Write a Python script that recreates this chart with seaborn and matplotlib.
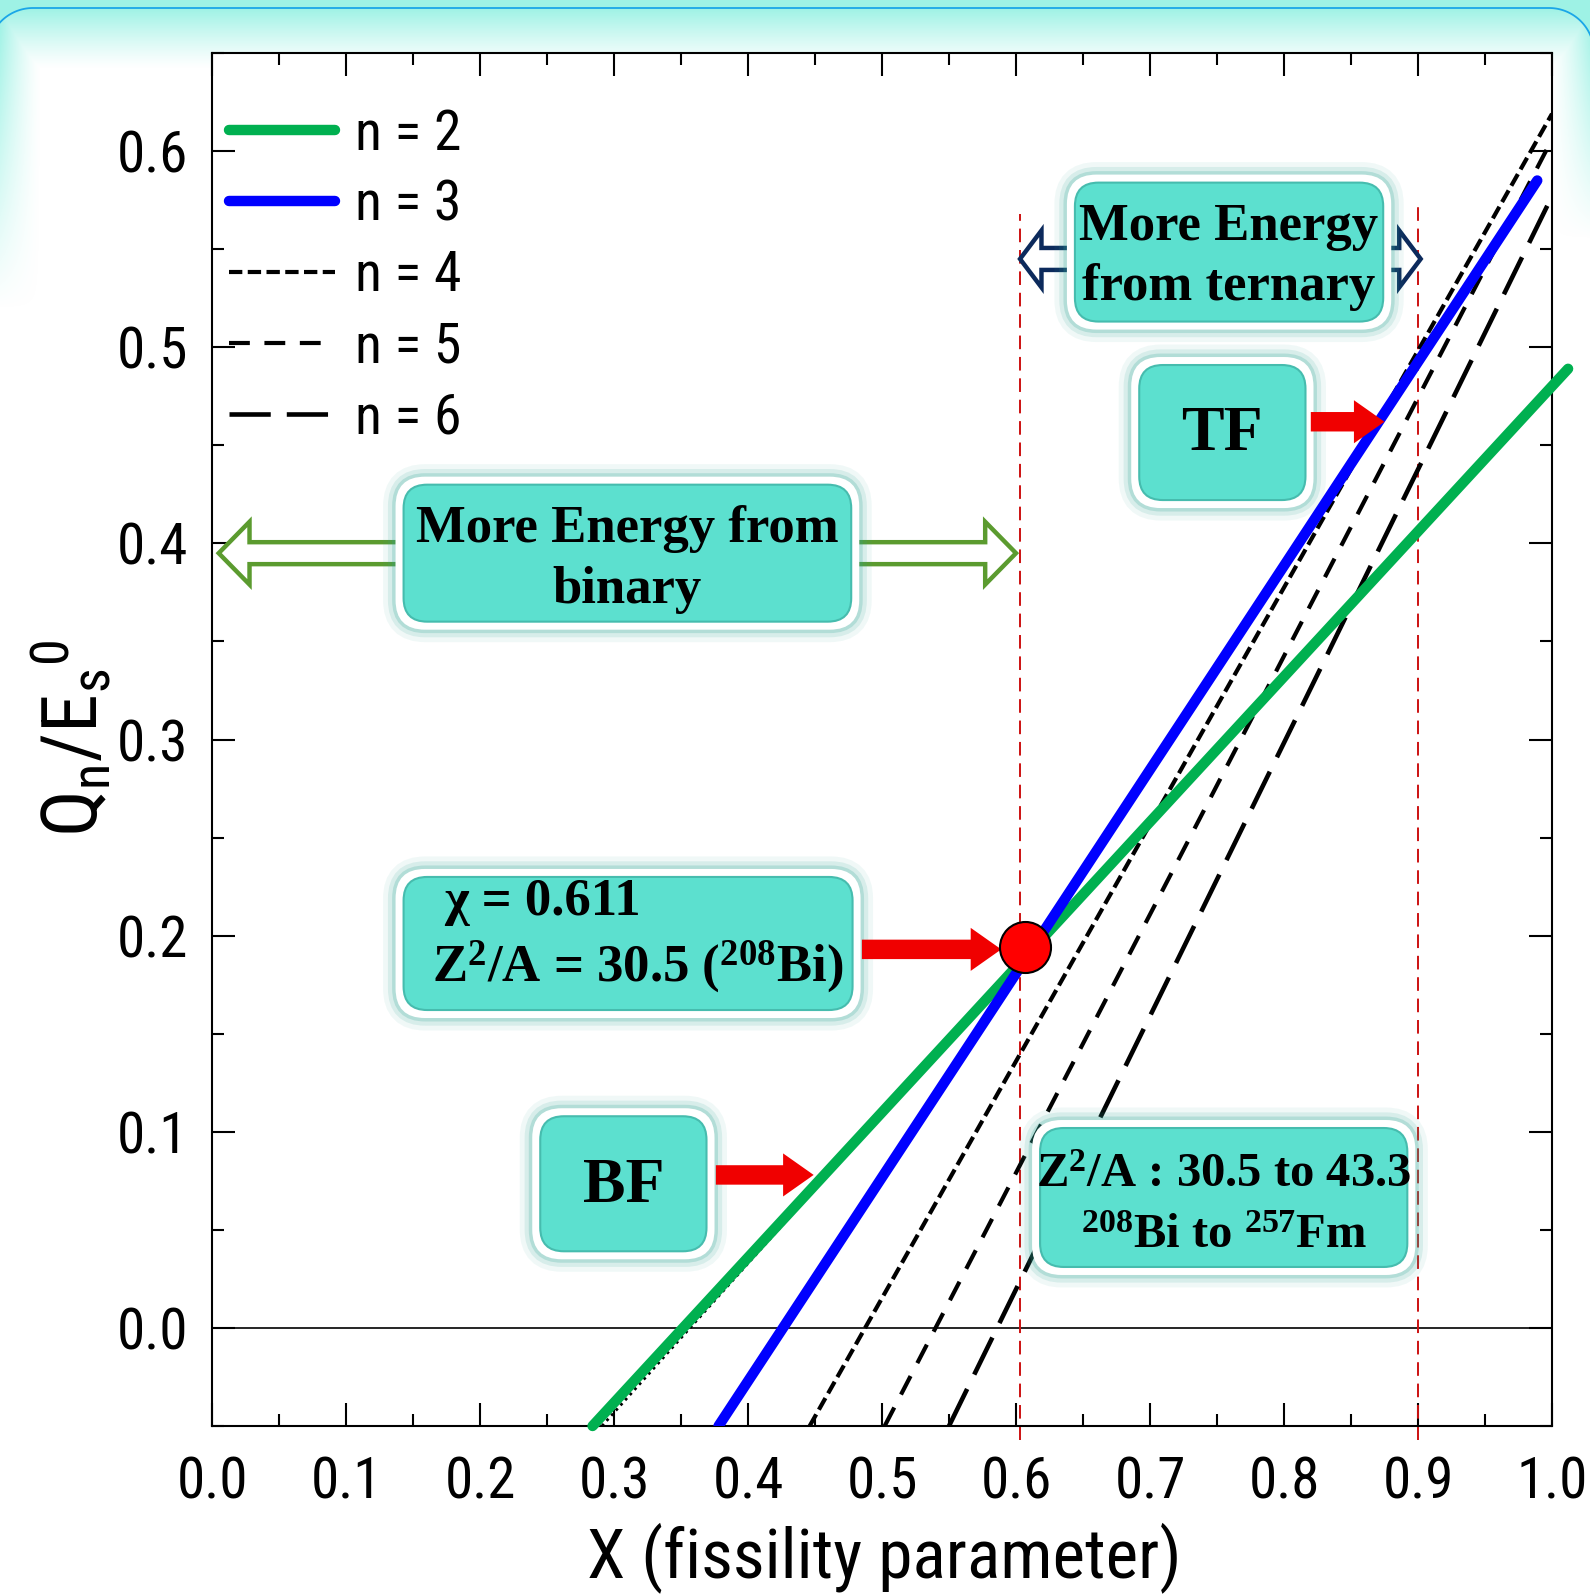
import matplotlib
matplotlib.use("Agg")
import matplotlib.pyplot as plt
import matplotlib.patheffects as pe
import matplotlib.font_manager as fm
from matplotlib.patches import FancyBboxPatch, FancyArrow, FancyArrowPatch, ArrowStyle
from matplotlib.ticker import MultipleLocator, FuncFormatter
import numpy as np
import seaborn as sns

# --- data (line end points) ---
x_n2 = [0.284, 1.012]
y_n2 = [-0.050, 0.489]
x_n2_dot = [0.291, 0.550]
y_n2_dot = [-0.050, 0.147]
x_n3 = [0.378, 0.989]
y_n3 = [-0.050, 0.585]
x_n4 = [0.446, 1.000]
y_n4 = [-0.050, 0.619]
x_n5 = [0.502, 1.000]
y_n5 = [-0.050, 0.606]
x_n6 = [0.550, 1.000]
y_n6 = [-0.050, 0.577]

chi_x = [0.607]
chi_y = [0.194]

limit_x = [0.603, 0.900]
limit_top = [0.568, 0.575]

legend_labels = ["n = 2", "n = 3", "n = 4", "n = 5", "n = 6"]

# --- fonts: look for a narrow sans (Arial Narrow look) ---
names = {f.name for f in fm.fontManager.ttflist}
NARROW, STRETCH = None, "normal"
for cand in ["Liberation Sans Narrow", "Arial Narrow", "Roboto Condensed",
             "Noto Sans Condensed", "Open Sans Condensed"]:
    if cand in names:
        NARROW = cand
        break
if NARROW is None:
    for fam in ["Roboto", "Noto Sans", "Open Sans", "DejaVu Sans"]:
        if any(f.name == fam and "condensed" in str(f.stretch) for f in fm.fontManager.ttflist):
            NARROW, STRETCH = fam, "condensed"
            break
if NARROW is None:
    NARROW = "Liberation Sans"
SANS = [NARROW, "Liberation Sans", "DejaVu Sans"]
SERIF = ["Liberation Serif", "DejaVu Serif"]

sns.set_style("ticks")
plt.rcParams["font.family"] = SANS
plt.rcParams["font.stretch"] = STRETCH
plt.rcParams["text.color"] = "black"
plt.rcParams["axes.labelcolor"] = "black"
plt.rcParams["xtick.color"] = "black"
plt.rcParams["ytick.color"] = "black"
plt.rcParams["mathtext.fontset"] = "custom"
plt.rcParams["mathtext.rm"] = "Liberation Serif"
plt.rcParams["mathtext.bf"] = "Liberation Serif:bold"

W, H = 1590, 1594
fig = plt.figure(figsize=(W / 100, H / 100), dpi=100, facecolor="white")

# slide-like background: cyan band at the top fading into white
bg = fig.add_axes([0, 0, 1, 1], zorder=-10)
bg.set_axis_off()
yy, xx = np.mgrid[0:H, 0:W].astype(float)
top = np.clip(1 - (yy - 8) / 60, 0, 1) ** 1.2
left = np.clip(1 - xx / 40, 0, 1) ** 1.3 * np.clip(1 - (yy - 8) / 300, 0, 1)
right = np.clip(1 - (W - xx) / 40, 0, 1) ** 1.3 * np.clip(1 - (yy - 8) / 230, 0, 1)
alpha = np.maximum(top, np.maximum(left, right))
alpha[yy <= 8] = 1
corner_l = (xx < 33) & (yy < 53) & (np.hypot(xx - 33, yy - 53) > 45)
corner_r = (xx > W - 41) & (yy < 53) & (np.hypot(xx - (W - 41), yy - 53) > 45)
alpha[corner_l | corner_r] = 1
rgba = np.zeros((H, W, 4))
rgba[..., :3] = np.array([0.62, 0.95, 0.90])
rgba[..., 3] = alpha
bg.imshow(rgba, extent=(0, W, H, 0), aspect="auto", interpolation="nearest")
# thin blue border of the panel: left arc, top edge, right arc
th_l = np.linspace(np.pi, 1.5 * np.pi, 40)
th_r = np.linspace(-0.5 * np.pi, 0, 40)
ex = np.concatenate([33 + 45 * np.cos(th_l), (W - 41) + 45 * np.cos(th_r)])
ey = np.concatenate([53 + 45 * np.sin(th_l), 53 + 45 * np.sin(th_r)])
bg.plot(ex, ey, color="#1aa6e8", lw=1.3)
bg.set_xlim(0, W)
bg.set_ylim(H, 0)

ax = fig.add_axes([212 / W, 1 - 1426 / H, 1340 / W, 1373 / H])
ax.set_facecolor("white")
ax.set_xlim(0, 1)
ax.set_ylim(-0.05, 0.65)
asp = (1340 / 1.0) / (1373 / 0.70)   # px per x-unit / px per y-unit

# --- lines ---
sns.lineplot(x=x_n2_dot, y=y_n2_dot, ax=ax, color="black", lw=2,
             linestyle=(0, (1, 1.5)), zorder=3, legend=False)
sns.lineplot(x=x_n4, y=y_n4, ax=ax, color="black", lw=3, linestyle=(0, (3.2, 1.3)),
             label=legend_labels[2], zorder=3)
sns.lineplot(x=x_n5, y=y_n5, ax=ax, color="black", lw=3, linestyle=(0, (5, 3.5)),
             label=legend_labels[3], zorder=3)
sns.lineplot(x=x_n6, y=y_n6, ax=ax, color="black", lw=3.3, linestyle=(0, (9, 3.5)),
             label=legend_labels[4], zorder=3)
sns.lineplot(x=x_n2, y=y_n2, ax=ax, color="#00b050", lw=7.5,
             label=legend_labels[0], zorder=4, clip_on=False)
sns.lineplot(x=x_n3, y=y_n3, ax=ax, color="#0000ff", lw=7.5,
             label=legend_labels[1], zorder=4)

ax.axhline(0, color="black", lw=1.2, zorder=2)
for xv, yt in zip(limit_x, limit_top):
    ax.plot([xv, xv], [-0.057, yt], color="#cc1111", lw=1.4,
            linestyle=(0, (7, 4)), zorder=2, clip_on=False)

# --- hollow double arrows (drawn below the boxes) ---
def hollow_arrow(xc, x_left, x_right, y, color, hw, hl):
    for xe in (x_left, x_right):
        ax.add_patch(FancyArrow(xc, y, xe - xc, 0, width=0.0112, head_width=hw,
                                head_length=hl, length_includes_head=True,
                                fc="white", ec=color, lw=3.2, zorder=5))

hollow_arrow(0.31, 0.005, 0.600, 0.395, "#5b9b2f", 0.032, 0.023)
hollow_arrow(0.76, 0.603, 0.902, 0.545, "#0c2a5c", 0.029, 0.016)

# --- rounded teal boxes ---
def box(x0, y0, x1, y1):
    r = 0.022
    outer = FancyBboxPatch((x0, y0), x1 - x0, y1 - y0,
                           boxstyle=f"round,pad=0,rounding_size={r}",
                           mutation_aspect=asp, fc="white", ec="none", zorder=6)
    outer.set_path_effects([
        pe.Stroke(linewidth=18, foreground="#2fa596", alpha=0.07),
        pe.Stroke(linewidth=11, foreground="#2fa596", alpha=0.13),
        pe.Stroke(linewidth=5, foreground="#2fa596", alpha=0.22),
        pe.Normal()])
    ax.add_patch(outer)
    dx, dy = 8 / 1340, 8 / 1961
    inner = FancyBboxPatch((x0 + dx, y0 + dy), x1 - x0 - 2 * dx, y1 - y0 - 2 * dy,
                           boxstyle=f"round,pad=0,rounding_size={r * 0.8}",
                           mutation_aspect=asp, fc="#5ce0cf", ec="#46bcae",
                           lw=1.5, zorder=7)
    ax.add_patch(inner)

box(0.638, 0.509, 0.880, 0.588)
box(0.686, 0.418, 0.822, 0.495)
box(0.137, 0.356, 0.483, 0.434)
box(0.137, 0.158, 0.484, 0.234)
box(0.239, 0.035, 0.375, 0.112)
box(0.612, 0.027, 0.898, 0.106)

tkw = dict(family=SERIF, fontweight="bold", color="black", zorder=8)
ax.text(0.759, 0.546, "More Energy\nfrom ternary", ha="center", va="center",
        fontsize=38, linespacing=1.3, **tkw)
ax.text(0.754, 0.455, "TF", ha="center", va="center", fontsize=46, **tkw)
ax.text(0.310, 0.392, "More Energy from\nbinary", ha="center", va="center",
        fontsize=38, linespacing=1.35, **tkw)
ax.text(0.173, 0.217, "χ = 0.611", ha="left", va="center", fontsize=38, **tkw)
ax.text(0.164, 0.184, r"Z$\mathbf{^2}$/A = 30.5 ($\mathbf{^{208}}$Bi)", ha="left",
        va="center", fontsize=38, **tkw)
ax.text(0.307, 0.072, "BF", ha="center", va="center", fontsize=46, **tkw)
ax.text(0.755, 0.078, r"Z$\mathbf{^2}$/A : 30.5 to 43.3", ha="center",
        va="center", fontsize=35, **tkw)
ax.text(0.755, 0.047, r"$\mathbf{^{208}}$Bi to $\mathbf{^{257}}$Fm", ha="center",
        va="center", fontsize=35, **tkw)

# --- red block arrows ---
red_style = ArrowStyle.Simple(head_length=22, head_width=31, tail_width=14)
for xa, xb, ya in [(0.376, 0.449, 0.078), (0.485, 0.589, 0.193), (0.820, 0.875, 0.462)]:
    ax.add_patch(FancyArrowPatch((xa, ya), (xb, ya), arrowstyle=red_style,
                                 mutation_scale=1, fc="#f00000", ec="none",
                                 shrinkA=0, shrinkB=0, zorder=9))

sns.scatterplot(x=chi_x, y=chi_y, ax=ax, s=1350, color="#ff0000",
                edgecolor="black", linewidth=1.5, zorder=10, legend=False)

# --- axes decoration ---
ax.xaxis.set_major_locator(MultipleLocator(0.1))
ax.xaxis.set_minor_locator(MultipleLocator(0.05))
ax.yaxis.set_major_locator(MultipleLocator(0.1))
ax.yaxis.set_minor_locator(MultipleLocator(0.05))
fmt = FuncFormatter(lambda v, p: f"{v:.1f}".replace("-0.0", "0.0"))
ax.xaxis.set_major_formatter(fmt)
ax.yaxis.set_major_formatter(fmt)
ax.tick_params(which="both", direction="in", top=True, right=True, width=1.5,
               color="black", labelsize=41, labelcolor="black")
ax.tick_params(which="major", length=16.5)
ax.tick_params(which="minor", length=8.5)
ax.tick_params(axis="x", pad=21)
ax.tick_params(axis="y", pad=17)
for s in ax.spines.values():
    s.set_linewidth(1.5)
    s.set_color("black")

handles, labels = ax.get_legend_handles_labels()
order = [labels.index(l) for l in legend_labels]
ax.legend([handles[i] for i in order], [labels[i] for i in order],
          loc="upper left", bbox_to_anchor=(0.0127, 0.960), frameon=False,
          fontsize=40, handlelength=1.9, handletextpad=0.36, labelspacing=0.32,
          borderpad=0, borderaxespad=0)

fig.text(884 / W, 1 - 1577 / H, "X (fissility parameter)", ha="center",
         va="baseline", fontsize=50)
fig.text(72 / W, 1 - 738 / H, r"$\mathregular{Q_n/E_s{}^0}$", rotation=90,
         ha="center", va="center", fontsize=56)

fig.savefig("out.png", dpi=100, facecolor="white")
